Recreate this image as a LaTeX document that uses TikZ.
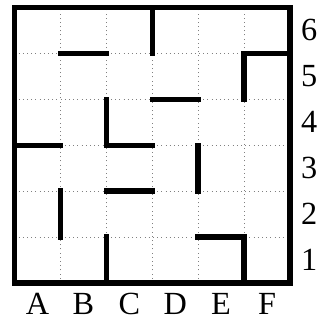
\documentclass[tikz,border=0pt]{standalone}
\usepackage{fontspec}
\setmainfont{Liberation Serif}
\usetikzlibrary{positioning}

\begin{document}
\begin{tikzpicture}[
    wall/.style={line width=3.3pt, line cap=rect},
    cellline/.style={gray, dotted, line width=0.6pt},
    lbl/.style={font=\fontsize{20}{22}\selectfont, inner sep=0pt}]
    \useasboundingbox (-0.316,-0.855) rectangle (6.72,6.164);

    % Raster
    \foreach \i in {1,...,5} {
        \draw[cellline] (\i,0) -- (\i,6);
        \draw[cellline] (0,\i) -- (6,\i);
    }

    % Rand
    \draw[wall] (0,0) rectangle (6,6);

    % Waende
    \draw[wall] (3,6) -- (3,5);
    \draw[wall] (1,5) -- (2,5);
    \draw[wall] (6,5) -- (5,5) -- (5,4);
    \draw[wall] (3,4) -- (4,4);
    \draw[wall] (2,4) -- (2,3) -- (3,3);
    \draw[wall] (0,3) -- (1,3);
    \draw[wall] (4,3) -- (4,2);
    \draw[wall] (2,2) -- (3,2);
    \draw[wall] (1,2) -- (1,1);
    \draw[wall] (2,1) -- (2,0);
    \draw[wall] (4,1) -- (5,1) -- (5,0);

    % Beschriftung
    \foreach \c [count=\i] in {A,...,F}
        \node[lbl] (col-\c) at (\i-0.5,-0.46) {\c};
    \foreach \r in {1,...,6}
        \node[lbl] (row-\r) at (6.42,\r-0.5) {\r};
\end{tikzpicture}
\end{document}
